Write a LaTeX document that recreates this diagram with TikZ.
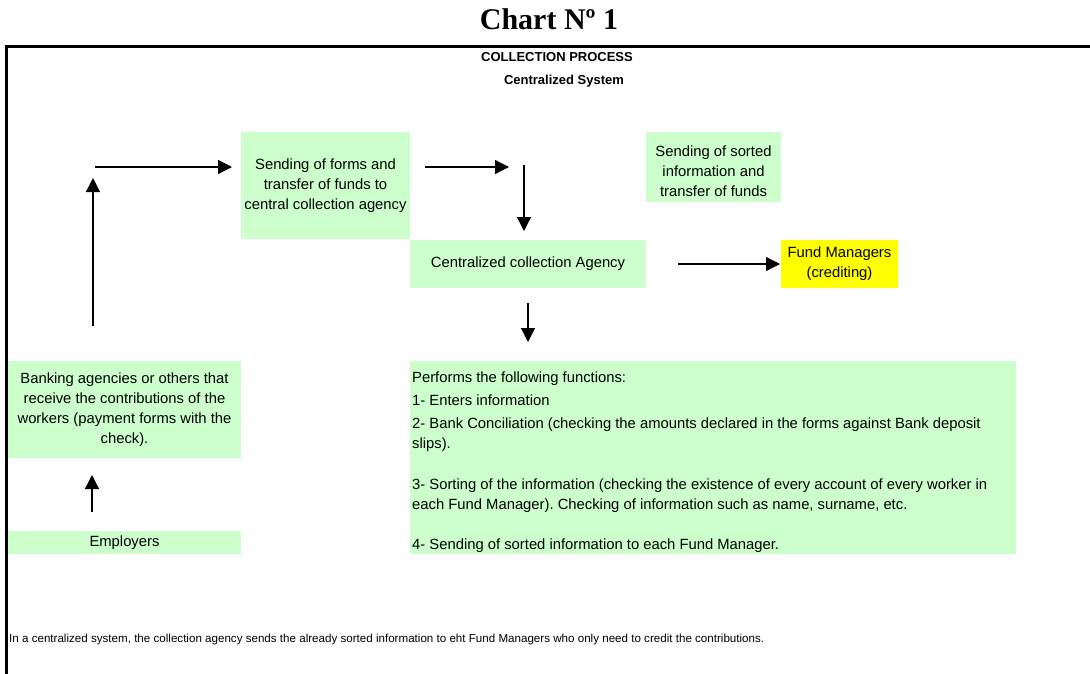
\documentclass[tikz,border=0pt]{standalone}
\usepackage{fontspec}
\setmainfont{Liberation Sans}
\newfontfamily\titlefont{Liberation Serif}
\usetikzlibrary{arrows.meta}
\definecolor{boxgreen}{HTML}{CCFFCC}
\definecolor{boxyellow}{HTML}{FFFF00}
\frenchspacing

\begin{document}
\begin{tikzpicture}[x=1pt,y=-1pt,
  body/.style={font=\fontsize{14.8}{20}\selectfont},
  box/.style={body, fill=boxgreen, inner sep=0pt, align=center},
  flow/.style={line width=1.3pt, -{Triangle[length=14pt,width=14pt]}},
  heading/.style={font=\fontsize{13}{16}\selectfont\bfseries, inner sep=0pt},
]
\useasboundingbox (0,0) rectangle (1090,673);
\fill[white] (0,0) rectangle (1090,673);

% titles
\node[font=\fontsize{30}{34}\selectfont\titlefont\bfseries, inner sep=0pt] (title) at (549,19) {Chart Nº 1};
\node[heading] (process) at (557,57) {COLLECTION PROCESS};
\node[heading] (system) at (564,81) {Centralized System};

% frame
\draw[line width=3pt] (1092,46) -| (6,675);

% boxes
\node[box, minimum width=169pt, minimum height=107pt] (forms) at (325.5,185.5)
  {Sending of forms and\\transfer of funds to\\central collection agency};
\node[box, minimum width=236pt, minimum height=48pt] (agency) at (528,264)
  {Centralized collection Agency};
\node[box, minimum width=135pt, minimum height=70pt] (sorted) at (713.5,167) {};
\node[body, inner sep=0pt, align=center] (sortedtext) at (713.5,171)
  {Sending of sorted\\information and\\transfer of funds};
\node[box, fill=boxyellow, minimum width=117pt, minimum height=48pt] (fund) at (839.5,264)
  {Fund Managers\\(crediting)};
\node[box, minimum width=233pt, minimum height=97pt] (bank) at (124.5,409.5)
  {Banking agencies or others that\\receive the contributions of the\\workers (payment forms with the\\check).};
\node[box, minimum width=233pt, minimum height=23pt] (employers) at (124.5,542.5)
  {Employers};
\node[box, minimum width=606pt, minimum height=193pt] (funcs) at (713,457.5) {};
\node[body, inner sep=0pt, align=left, anchor=north west] (funcstext) at (412,372)
  {Performs the following functions:\\[3pt]
   1- Enters information\\[3pt]
   2- Bank Conciliation (checking the amounts declared in the forms against Bank deposit\\
   slips).\\[21pt]
   3- Sorting of the information (checking the existence of every account of every worker in\\
   each Fund Manager). Checking of information such as name, surname, etc.\\[20pt]
   4- Sending of sorted information to each Fund Manager.};

% note
\node[font=\fontsize{11.6}{14}\selectfont, inner sep=0pt, anchor=base west] (note) at (9,642)
  {In a centralized system, the collection agency sends the already sorted information to eht Fund Managers who only need to credit the contributions.};

% arrow ends
\coordinate (upA) at (93,326);   \coordinate (upB) at (93,178);
\coordinate (rtA) at (95,167);   \coordinate (rtB) at (232,167);
\coordinate (mdA) at (425,167);  \coordinate (mdB) at (509,167);
\coordinate (dnA) at (524,165);  \coordinate (dnB) at (524,231);
\coordinate (fmA) at (678,264);  \coordinate (fmB) at (780,264);
\coordinate (fnA) at (528,303);  \coordinate (fnB) at (528,342);
\coordinate (emA) at (92,512);   \coordinate (emB) at (92,475);

\draw[flow] (upA) -- (upB);
\draw[flow] (rtA) -- (rtB);
\draw[flow] (mdA) -- (mdB);
\draw[flow] (dnA) -- (dnB);
\draw[flow] (fmA) -- (fmB);
\draw[flow] (fnA) -- (fnB);
\draw[flow] (emA) -- (emB);
\end{tikzpicture}
\end{document}
